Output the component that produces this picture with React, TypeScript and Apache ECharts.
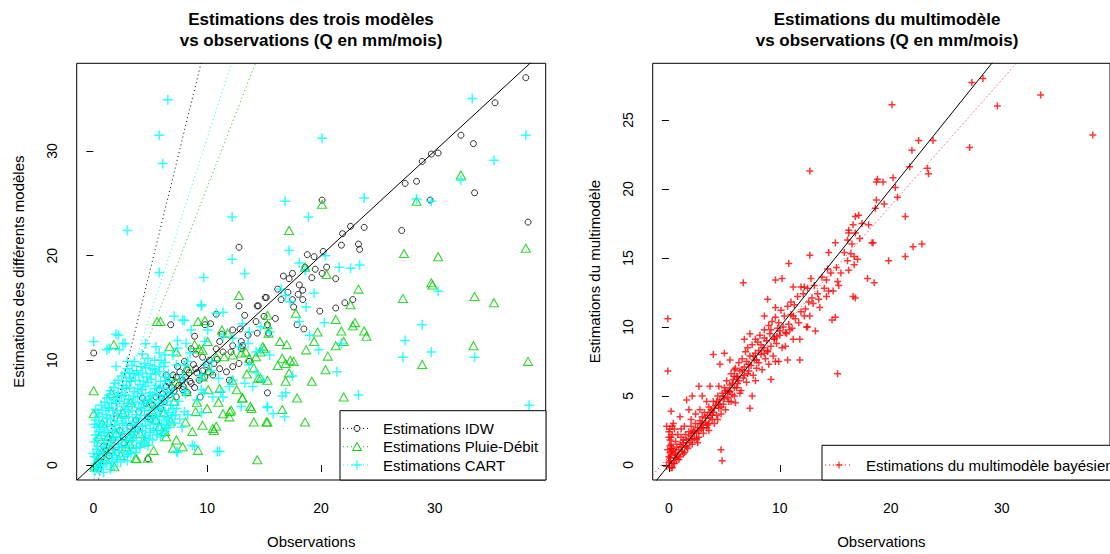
import { useEffect, useRef } from 'react'
import * as echarts from 'echarts'

// axis ticks
const xTicks = [0, 10, 20, 30]
const yTicksModels = [0, 10, 20, 30]
const yTicksMulti = [0, 5, 10, 15, 20, 25]

// axis extents (R adds 4% on each side)
const xRange = [-1.46, 39.75]
const yRangeModels = [-1.43, 38.37]
const yRangeMulti = [-1.09, 29.1]

// regression lines: [intercept, slope]
const idwFit = [-3.45, 4.42]
const pluieDebitFit = [-1.5, 2.8]
const cartFit = [-2.5, 3.37]
const multiFit = [0.6, 0.91]
const identity = [0, 1]

// Estimations IDW (observation, estimation)
const idwPoints = [
  [38.0, 37.0], [35.3, 34.6], [32.3, 31.5], [33.4, 30.7], [30.3, 29.8], [29.7, 29.7], [28.9, 29.0], [33.5, 26.0],
  [27.4, 26.9], [28.4, 27.1], [29.6, 25.3], [38.2, 23.2], [27.1, 22.4], [20.1, 25.3], [23.8, 22.7], [22.6, 22.8],
  [21.9, 22.1], [21.8, 21.0], [23.3, 21.1], [23.4, 20.6], [12.8, 20.8], [18.8, 20.1], [19.4, 19.9], [20.2, 20.4],
  [20.5, 18.9], [18.6, 18.9], [19.5, 18.7], [21.3, 17.8], [17.2, 17.8], [16.7, 18.05], [17.5, 18.3], [17.1, 16.5],
  [18.0, 16.3], [18.4, 16.7], [16.5, 15.8], [17.5, 15.8], [17.6, 15.1], [18.1, 17.2], [18.4, 15.8], [21.3, 15.0],
  [22.1, 15.5], [22.8, 15.8], [19.9, 14.7], [17.9, 13.4], [18.5, 13.0], [15.1, 16.0], [14.5, 15.2], [15.3, 6.9],
  [0.03, 10.7], [6.8, 13.4], [9.8, 13.4], [10.3, 13.5], [10.8, 14.4], [8.9, 12.3], [15.0, 14.2], [14.4, 12.6],
  [4.8, 0.6], [12.8, 15.2], [14.4, 15.2], [15.2, 16.0], [12.25, 12.9], [12.9, 13.0], [11.1, 11.8], [13.0, 11.8],
  [13.6, 12.4], [14.3, 13.7], [15.3, 13.4], [15.4, 12.6], [8.6, 11.1], [9.0, 10.6], [9.6, 10.3], [10.8, 11.1],
  [11.4, 10.8], [12.1, 10.8], [12.25, 11.4], [13.0, 11.1], [13.1, 11.4], [7.4, 9.4], [7.3, 8.4], [7.85, 8.1],
  [8.4, 8.8], [9.0, 9.2], [8.6, 7.8], [9.3, 8.1], [9.8, 8.4], [10.5, 8.6], [11.1, 9.2], [11.7, 8.9],
  [11.95, 8.1], [12.25, 9.4], [12.8, 9.7], [13.7, 9.9], [5.8, 7.2], [6.4, 7.5], [6.7, 6.7], [7.3, 6.5],
  [7.85, 7.2], [5.5, 6.5], [6.2, 6.05], [4.6, 5.9], [5.2, 5.7], [4.3, 6.4], [4.0, 5.1], [4.8, 4.6],
  [3.75, 4.3], [3.2, 3.7], [2.3, 3.3], [2.6, 2.7], [1.7, 2.4], [2.0, 1.75], [1.1, 1.4], [0.7, 0.8],
  [6.9, 8.1], [7.5, 7.6], [8.1, 8.4], [8.8, 9.6], [9.4, 6.5], [6.4, 8.6], [7.1, 7.1], [8.3, 6.9],
  [9.9, 9.6], [10.2, 10.0], [10.6, 9.7], [5.9, 5.4], [3.4, 2.9], [2.7, 2.1], [1.4, 0.9], [0.4, 0.3],
  [0.9, 1.8], [3.9, 3.4], [5.0, 4.4], [6.1, 6.8], [8.0, 9.9], [11.3, 12.5], [13.3, 14.3], [16.2, 16.8],
  [16.0, 14.0], [19.2, 17.9], [20.1, 18.3], [7.0, 8.6], [7.6, 8.9], [8.2, 9.1], [8.5, 8.0], [9.1, 8.8],
  [9.6, 9.0], [10.1, 8.9], [10.9, 10.1], [6.6, 7.9], [7.9, 7.5], [8.9, 7.4], [6.0, 6.4], [6.9, 7.4]
]

// Estimations Pluie-Débit
const pluieDebitPoints = [
  [32.3, 27.7], [28.4, 25.2], [20.1, 24.9], [17.2, 22.4], [38.0, 20.7], [27.3, 20.2], [30.3, 19.9], [18.6, 18.9],
  [20.5, 18.2], [29.7, 17.4], [12.8, 16.2], [23.3, 16.8], [27.2, 15.9], [29.8, 17.2], [33.5, 16.1], [35.2, 15.5],
  [22.6, 15.3], [21.3, 13.9], [22.8, 13.3], [23.8, 12.8], [24.0, 12.3], [21.8, 12.8], [22.0, 11.8], [21.3, 11.4],
  [19.4, 11.8], [19.7, 12.7], [18.7, 11.0], [20.4, 9.1], [22.0, 6.5], [33.4, 11.4], [28.9, 9.6], [38.2, 9.9],
  [17.9, 6.4], [18.6, 4.1], [16.6, 5.3], [15.3, 4.1], [14.1, 4.1], [14.4, 0.5], [16.9, 8.0], [17.2, 8.8],
  [14.7, 8.3], [13.1, 6.4], [13.8, 5.6], [12.0, 5.1], [10.8, 3.7], [10.6, 3.3], [9.6, 3.8], [9.2, 1.4],
  [5.9, 13.7], [5.6, 13.7], [9.2, 13.7], [9.8, 13.8], [1.8, 11.5], [0.03, 7.1], [0.03, 4.9], [17.8, 14.5],
  [15.3, 14.3], [3.8, 0.6], [15.3, 13.4], [15.4, 12.6], [14.9, 11.3], [15.0, 11.1], [14.5, 8.3], [15.3, 8.1],
  [1.6, 6.85], [11.3, 12.9], [11.8, 12.6], [6.7, 11.3], [7.3, 10.8], [8.9, 11.5], [9.3, 11.1], [9.6, 10.96],
  [10.05, 11.8], [10.8, 10.35], [11.5, 10.35], [12.25, 10.5], [13.0, 10.7], [13.4, 10.8], [13.7, 10.2], [14.3, 10.35],
  [14.7, 10.8], [13.1, 6.4], [13.9, 5.4], [12.1, 5.25], [11.4, 4.9], [11.95, 4.6], [10.5, 3.5], [8.7, 3.2],
  [7.3, 2.4], [7.85, 1.75], [7.0, 1.6], [6.4, 2.7], [5.8, 3.7], [5.5, 4.3], [5.2, 5.1], [15.2, 4.1],
  [3.7, 0.64], [4.8, 0.64], [2.9, 1.75], [3.2, 2.7], [2.0, 3.0], [1.3, 2.7], [0.8, 4.0], [0.5, 2.7],
  [1.1, 0.5], [1.85, -0.16], [0.1, -0.1], [16.4, 11.8], [17.0, 11.5], [16.6, 10.2], [16.9, 9.7], [17.3, 10.0],
  [16.2, 9.5], [17.6, 9.9], [5.0, 6.0], [6.2, 5.0], [7.1, 6.1], [8.2, 7.0], [9.1, 6.0], [10.1, 7.2],
  [4.1, 3.0], [3.2, 2.0], [6.3, 3.2], [8.1, 4.1], [9.0, 5.1], [11.1, 7.3], [12.2, 8.1], [10.2, 9.0],
  [8.3, 9.2], [7.2, 8.0], [4.5, 2.2], [5.3, 1.4], [6.8, 4.2], [2.4, 0.9], [1.5, 1.5], [0.6, 1.0],
  [0.3, 0.2], [2.6, 5.0], [3.3, 6.0], [12.6, 7.2], [13.5, 8.7], [10.0, 5.4], [11.0, 6.0], [9.6, 8.4],
  [20.6, 10.4], [19.2, 8.0], [23.0, 13.6], [14.1, 9.3]
]

// Estimations CART
const cartPoints = [
  [6.55, 34.9], [5.8, 31.5], [6.1, 28.8], [3.0, 22.4], [20.1, 31.2], [33.3, 35.0], [38.0, 31.5], [35.2, 29.1],
  [32.3, 27.2], [28.4, 25.4], [29.7, 25.2], [23.8, 25.5], [16.85, 25.2], [18.9, 23.7], [12.2, 23.7], [12.2, 19.65],
  [17.2, 20.5], [18.1, 19.3], [20.4, 20.0], [21.6, 18.9], [22.6, 18.8], [23.4, 19.1], [13.3, 18.3], [9.7, 17.9],
  [5.8, 18.4], [18.6, 18.6], [28.9, 13.4], [27.4, 11.9], [27.2, 10.3], [29.7, 10.8], [33.5, 10.3], [30.3, 16.6],
  [21.4, 8.9], [23.3, 6.7], [38.3, 5.7], [19.4, 16.4], [18.7, 15.1], [19.8, 11.0], [17.5, 8.5], [16.9, 6.9],
  [16.6, 6.6], [16.8, 4.6], [15.3, 5.5], [10.9, 1.3], [7.4, 1.2], [8.9, 1.8], [9.5, 15.2], [8.0, 13.8],
  [7.1, 14.2], [11.4, 14.6], [0.03, 11.8], [2.2, 12.4], [1.2, 11.0], [2.8, 11.6], [2.0, 9.4], [2.0, 12.5],
  [2.6, 11.6], [1.4, 11.15], [2.3, 11.0], [3.0, 9.9], [3.2, 8.8], [4.6, 11.6], [5.5, 11.3], [5.8, 10.7],
  [5.95, 10.0], [4.8, 10.2], [5.2, 9.2], [9.5, 15.3], [10.8, 14.5], [7.85, 13.85], [8.6, 12.9], [10.05, 12.9],
  [9.8, 11.8], [11.4, 12.3], [13.1, 13.5], [13.7, 12.7], [14.7, 13.2], [15.5, 12.7], [7.4, 11.9], [7.4, 11.15],
  [7.0, 10.5], [8.15, 11.6], [7.3, 9.55], [12.25, 12.1], [12.8, 11.3], [13.6, 11.6], [14.3, 10.8], [14.7, 11.0],
  [15.5, 10.5], [13.7, 9.55], [14.3, 8.8], [14.9, 8.1], [14.0, 7.5], [13.3, 7.8], [12.25, 8.1], [11.95, 7.5],
  [11.4, 6.5], [10.5, 6.5], [13.0, 5.6], [15.3, 5.6], [15.8, 4.9], [8.7, 1.9], [7.3, 1.3], [11.1, 1.3],
  [16.5, 16.8], [16.9, 16.2], [17.3, 15.6], [18.1, 13.7], [19.0, 12.4], [20.3, 13.6], [21.8, 11.6],
  [0.1, -0.6], [0.5, -0.4], [0.9, -0.7],
  [0.2, 0.1], [0.7, 0.0], [1.2, 0.2], [1.8, -0.1], [2.4, 0.3],
  [0.1, 0.8], [0.6, 0.6], [1.4, 0.9], [2.0, 0.7], [2.7, 0.8], [3.3, 1.1],
  [0.3, 1.5], [0.8, 1.3], [1.2, 1.6], [1.9, 1.4], [2.5, 1.7], [3.1, 1.3], [3.8, 1.6], [4.5, 2.0],
  [0.1, 2.2], [0.9, 2.1], [1.5, 2.4], [2.2, 2.0], [2.9, 2.3], [3.5, 2.6], [4.2, 2.1], [4.9, 2.5], [5.6, 2.9],
  [0.2, 2.9], [0.7, 2.8], [1.3, 3.1], [2.0, 2.7], [2.6, 3.0], [3.3, 2.9], [4.0, 3.2], [4.6, 2.8], [5.3, 3.3], [6.0, 3.0], [6.6, 3.6],
  [0.3, 3.6], [0.9, 3.4], [1.6, 3.7], [2.3, 3.5], [2.9, 3.8], [3.6, 3.4], [4.3, 3.7], [5.0, 3.5], [5.7, 3.9], [6.4, 3.5], [7.1, 4.0], [7.8, 3.6],
  [0.2, 4.3], [0.8, 4.1], [1.5, 4.4], [2.1, 4.2], [2.8, 4.5], [3.5, 4.1], [4.1, 4.4], [4.8, 4.2], [5.5, 4.6], [6.2, 4.3], [6.9, 4.7], [7.6, 4.4], [8.3, 4.8],
  [0.4, 5.0], [1.1, 4.8], [1.7, 5.2], [2.4, 4.9], [3.1, 5.1], [3.8, 4.8], [4.5, 5.2], [5.2, 4.9], [5.9, 5.3], [6.6, 5.0], [7.3, 5.4], [8.0, 5.1], [9.5, 5.0],
  [0.7, 5.7], [1.3, 5.5], [2.0, 5.9], [2.7, 5.6], [3.4, 5.8], [4.0, 5.5], [4.7, 5.9], [5.4, 5.6], [6.1, 6.0], [6.8, 5.7], [7.5, 6.1], [9.1, 6.2],
  [1.2, 6.4], [1.8, 6.2], [2.5, 6.6], [3.1, 6.3], [3.9, 6.5], [4.5, 6.2], [5.2, 6.6], [5.9, 6.3], [6.6, 6.7], [8.1, 6.8], [9.7, 6.9],
  [1.5, 7.1], [2.2, 6.9], [2.9, 7.3], [3.6, 7.0], [4.3, 7.2], [5.0, 6.9], [5.8, 7.3], [6.5, 7.0], [8.0, 7.1], [9.5, 7.2], [11.2, 7.0],
  [1.9, 7.8], [2.6, 7.6], [3.3, 8.0], [4.1, 7.7], [4.8, 7.9], [5.5, 7.6], [6.3, 8.0], [7.9, 8.1], [9.4, 8.2], [11.0, 8.3],
  [2.5, 8.5], [3.2, 8.3], [4.0, 8.6], [4.7, 8.4], [5.5, 8.7], [6.3, 8.4], [7.8, 8.5], [9.5, 8.6], [10.4, 9.0],
  [3.0, 9.2], [3.8, 9.0], [4.6, 9.3], [5.4, 9.1], [6.2, 9.4], [8.0, 9.5], [9.8, 9.6],
  [3.6, 9.9], [4.5, 9.7], [5.4, 10.0], [6.3, 9.8], [8.3, 9.9], [10.4, 9.9],
  [4.3, 10.6], [6.3, 10.5], [8.5, 10.7],
  [0.3, -0.3], [0.7, -0.2], [1.5, -0.4],
  [0.4, 0.35], [0.9, 0.4], [1.6, 0.3], [2.1, 0.5], [3.0, 0.4],
  [0.0, 1.1], [0.5, 1.0], [1.0, 1.1], [1.7, 0.9], [2.3, 1.2], [3.0, 1.0], [3.7, 1.2],
  [0.4, 1.8], [1.0, 1.7], [1.6, 1.9], [2.2, 1.7], [2.8, 1.8], [3.4, 1.9], [4.1, 1.7], [4.8, 1.9],
  [0.4, 2.5], [1.2, 2.4], [1.8, 2.6], [2.5, 2.4], [3.2, 2.5], [3.8, 2.3], [4.5, 2.6], [5.2, 2.4], [5.9, 2.7],
  [0.5, 3.2], [1.0, 3.1], [1.7, 3.3], [2.3, 3.1], [3.0, 3.2], [3.6, 3.1], [4.3, 3.3], [5.0, 3.1], [5.6, 3.3], [6.3, 3.2],
  [0.1, 3.9], [0.6, 3.8], [1.2, 3.9], [1.9, 3.8], [2.6, 4.0], [3.3, 3.8], [3.9, 3.9], [4.6, 3.8], [5.3, 4.0], [6.0, 3.8], [6.7, 4.1],
  [0.5, 4.6], [1.2, 4.5], [1.8, 4.7], [2.5, 4.5], [3.1, 4.6], [3.8, 4.5], [4.5, 4.7], [5.1, 4.5], [5.8, 4.7], [6.5, 4.5], [7.2, 4.8],
  [0.2, 5.3], [0.8, 5.2], [1.4, 5.4], [2.1, 5.2], [2.8, 5.3], [3.4, 5.2], [4.2, 5.4], [4.9, 5.2], [5.6, 5.4], [6.3, 5.2], [7.0, 5.4],
  [1.0, 6.0], [1.6, 5.9], [2.3, 6.1], [3.0, 5.9], [3.7, 6.0], [4.4, 5.9], [5.1, 6.1], [5.8, 5.9], [6.5, 6.1],
  [1.4, 6.7], [2.1, 6.6], [2.8, 6.7], [3.5, 6.6], [4.2, 6.8], [4.9, 6.6], [5.6, 6.7], [6.2, 6.6], [7.0, 6.8],
  [1.8, 7.4], [2.5, 7.3], [3.2, 7.4], [3.9, 7.3], [4.6, 7.5], [5.4, 7.3], [6.1, 7.4], [6.9, 7.3],
  [2.2, 8.1], [2.9, 8.0], [3.7, 8.1], [4.4, 8.0], [5.1, 8.2], [5.9, 8.0], [6.7, 8.1],
  [2.8, 8.8], [3.5, 8.7], [4.3, 8.8], [5.0, 8.7], [5.8, 8.9], [6.6, 8.7],
  [3.4, 9.5], [4.2, 9.4], [5.0, 9.5], [5.8, 9.4]
]

// Estimations du multimodèle bayésien
const multimodelPoints = [
  [27.3, 27.7], [28.3, 28.0], [33.5, 26.8], [29.6, 26.0], [38.2, 23.9], [20.1, 26.1], [27.1, 23.0], [22.5, 23.5],
  [23.8, 23.5], [21.9, 22.8], [21.7, 21.6], [23.3, 21.5], [23.4, 21.1], [12.7, 21.3], [18.8, 20.7], [18.7, 20.5],
  [19.3, 20.5], [20.2, 20.8], [20.4, 20.1], [20.6, 19.4], [18.7, 19.2], [18.6, 18.6], [19.4, 18.9], [21.3, 18.0],
  [16.8, 18.0], [17.1, 18.1], [16.6, 17.4], [17.4, 17.5], [18.0, 17.4], [16.2, 17.0], [16.2, 16.8], [16.8, 16.8],
  [15.0, 16.1], [16.1, 16.3], [17.2, 16.4], [18.3, 16.1], [21.3, 15.1], [22.0, 15.8], [22.8, 16.0], [19.8, 14.8],
  [14.4, 15.4], [12.7, 15.2], [16.4, 15.3], [16.7, 15.1], [17.0, 14.9], [16.7, 14.5], [16.2, 14.1], [10.8, 14.6],
  [17.9, 13.5], [18.5, 13.2], [14.3, 14.2], [10.2, 13.5], [11.2, 12.9], [12.2, 12.9], [12.8, 13.5], [14.2, 13.4],
  [15.2, 13.3], [15.3, 13.0], [9.6, 13.4], [11.9, 12.9], [-0.1, 10.6], [-0.1, 6.8], [15.2, 6.6], [6.7, 13.2],
  [4.7, 1.1], [4.8, 0.3], [0.2, 3.9], [18.4, 16.1], [16.6, 12.2], [16.8, 12.1], [14.7, 10.5], [15.0, 10.7],
  [14.4, 12.6], [13.5, 12.0], [13.2, 9.7], [13.0, 11.7], [12.4, 10.0], [11.8, 9.1], [11.8, 7.6], [10.7, 7.6],
  [9.9, 7.5], [9.6, 7.5], [9.2, 6.2], [10.5, 8.6], [11.2, 9.1], [8.9, 12.0], [9.6, 11.4], [8.6, 10.8],
  [11.0, 11.8], [11.2, 10.8], [12.2, 10.8], [12.7, 10.8], [12.5, 10.0], [7.3, 9.5], [7.8, 9.1], [8.6, 9.2],
  [6.8, 9.1], [8.9, 8.3], [8.1, 8.3], [9.5, 9.1], [9.7, 9.3], [9.2, 9.8], [10.0, 9.7], [10.6, 9.5],
  [10.9, 9.8], [4.0, 8.0], [5.0, 8.1], [4.6, 7.3], [5.5, 7.6], [5.9, 6.9], [6.2, 6.4], [7.1, 6.6],
  [7.5, 5.0], [7.3, 4.1], [5.9, 5.0], [5.4, 5.4], [4.5, 5.7], [3.7, 5.7], [2.7, 5.7], [3.0, 5.0],
  [2.1, 5.0], [1.6, 4.7], [1.8, 4.0], [2.4, 3.7], [1.0, 3.5], [0.4, 3.0], [0.1, 1.8], [1.3, 1.8],
  [2.1, 2.3], [0.1, 0.9], [0.7, 0.4], [-0.2, -0.1],
  [0.0, 0.2], [0.1, 0.5], [-0.1, 1.1], [0.2, 1.5], [0.0, 2.0], [0.1, 2.6], [-0.2, 2.8], [0.3, 2.2],
  [0.4, 1.2], [0.2, 0.7], [0.3, -0.2], [0.5, 0.1],
  [0.1, 0.3], [0.2, -0.2], [0.0, 0.6], [0.3, 1.0], [0.1, 1.4], [0.4, 0.1], [0.5, 0.8], [0.2, 2.0],
  [0.0, 2.4], [0.3, 2.8], [0.5, 2.6], [0.2, 1.2], [0.6, 0.5], [0.7, 1.3], [0.8, 0.7], [0.9, 1.1],
  [1.0, 0.6], [1.0, 1.5], [1.1, 2.0], [1.2, 1.0], [1.3, 1.6], [1.4, 0.9], [1.5, 1.4], [1.5, 2.2],
  [1.6, 1.8], [1.7, 1.2], [1.8, 2.4], [1.9, 1.6], [2.0, 2.1], [2.0, 2.8], [2.1, 1.5], [2.2, 2.5],
  [2.3, 1.9], [2.4, 3.0], [2.5, 2.3], [2.6, 2.7], [2.7, 2.0], [2.8, 3.2], [2.9, 2.6], [3.0, 3.5],
  [3.0, 2.9], [3.1, 2.3], [3.2, 3.8], [3.3, 3.1], [3.4, 2.7], [3.5, 3.6], [3.6, 4.2], [3.6, 3.0],
  [3.7, 3.4], [3.8, 4.0], [3.9, 3.3], [4.0, 4.6], [4.0, 3.8], [4.1, 3.0], [4.2, 4.3], [4.3, 3.6],
  [4.4, 5.0], [4.5, 4.1], [4.6, 4.7], [4.7, 3.7], [4.8, 5.2], [4.9, 4.4], [5.0, 5.6], [5.0, 4.8],
  [5.1, 4.0], [5.2, 6.1], [5.3, 5.3], [5.4, 4.6], [5.5, 5.8], [5.6, 6.6], [5.7, 5.1], [5.8, 6.2],
  [5.9, 5.6], [6.0, 7.0], [6.0, 4.5], [6.1, 6.4], [6.2, 5.9], [6.3, 7.4], [6.4, 6.8], [6.5, 5.4],
  [6.6, 7.7], [6.7, 6.3], [6.8, 7.1], [6.9, 8.2], [7.0, 6.0], [7.0, 7.5], [7.1, 8.5], [7.2, 6.8],
  [7.3, 7.9], [7.4, 7.2], [7.5, 8.7], [7.6, 6.5], [7.7, 7.6], [7.8, 8.1], [7.9, 7.0], [8.0, 8.9],
  [8.1, 7.4], [8.2, 9.4], [8.3, 8.0], [8.4, 6.9], [8.5, 8.5], [8.6, 9.8], [8.7, 7.7], [8.8, 9.0],
  [8.9, 8.2], [9.0, 10.1], [9.0, 7.3], [9.1, 9.5], [9.2, 8.6], [9.3, 10.4], [9.4, 7.9], [9.5, 9.2],
  [9.6, 10.7], [9.7, 8.8], [9.8, 9.9], [9.9, 10.3], [10.0, 9.4], [10.1, 11.2], [10.2, 8.5], [10.3, 10.0],
  [10.4, 10.8], [10.5, 9.6], [10.7, 11.5], [10.8, 10.2], [11.0, 10.9], [11.1, 9.9], [11.3, 11.6], [11.4, 10.6],
  [11.6, 12.2], [11.7, 10.3], [11.9, 11.1], [12.1, 12.4], [12.3, 11.3], [12.5, 12.8], [12.6, 11.8], [12.9, 12.1],
  [13.1, 13.0], [13.4, 12.4], [13.6, 11.4], [13.8, 13.6], [14.0, 12.8], [14.2, 12.2], [14.6, 13.9], [14.8, 12.6],
  [15.1, 14.3], [15.5, 13.9], [15.8, 15.4], [16.1, 14.8], [16.5, 16.0],
  [0.6, 0.9], [0.9, 0.4], [1.1, 1.3], [1.3, 0.8], [1.6, 1.3], [1.8, 1.9], [2.1, 1.8], [2.3, 2.4],
  [2.5, 1.9], [2.7, 2.5], [2.9, 3.0], [3.1, 2.7], [3.3, 3.4], [3.5, 2.9], [3.7, 3.8], [3.9, 3.6],
  [4.1, 4.1], [4.3, 4.6], [4.5, 4.4], [4.7, 4.2], [4.9, 5.0], [5.1, 5.4], [5.3, 4.9], [5.5, 5.3],
  [5.7, 5.9], [5.9, 6.4], [6.1, 5.6], [6.3, 6.1], [6.6, 6.9], [6.8, 6.5], [7.2, 7.3], [7.6, 7.9],
  [7.9, 7.6], [8.3, 8.7], [8.6, 8.1], [2.0, 3.3], [2.8, 4.0], [3.4, 4.6], [1.4, 2.8], [1.1, 2.6],
  [0.8, 2.2], [0.6, 1.7], [2.6, 1.6], [3.6, 2.5], [4.4, 3.3], [5.6, 4.6], [6.4, 5.2], [7.8, 6.1]
]

const FONT = '"Liberation Sans", Arial, sans-serif'
const GREEN = '#00CD00'
const CYAN = '#00FFFF'
const RED = '#FF0000'
const PLUS = 'path://M0,5L10,5M5,0L5,10'

function fitLine(coef: number[]) {
  return [
    [xRange[0], coef[0] + coef[1] * xRange[0]],
    [xRange[1], coef[0] + coef[1] * xRange[1]]
  ]
}

function lineSeries(coef: number[], color: string, dotted: boolean, idx: number) {
  return {
    type: 'line',
    xAxisIndex: idx,
    yAxisIndex: idx,
    data: fitLine(coef),
    symbol: 'none',
    silent: true,
    clip: true,
    z: 5,
    lineStyle: { color, width: 1, type: dotted ? [1, 3] : 'solid' }
  }
}

function xAxisFor(idx: number) {
  return {
    gridIndex: idx,
    type: 'value',
    min: xRange[0],
    max: xRange[1],
    axisLine: { show: false },
    splitLine: { show: false },
    axisTick: { show: true, length: 7, customValues: xTicks, lineStyle: { color: '#000' } },
    axisLabel: { customValues: xTicks, fontSize: 14, color: '#000', fontFamily: FONT, margin: 21 },
    name: 'Observations',
    nameLocation: 'middle',
    nameGap: 54,
    nameTextStyle: { fontSize: 15, color: '#000', fontFamily: FONT }
  }
}

function yAxisFor(idx: number, range: number[], ticks: number[], name: string) {
  return {
    gridIndex: idx,
    type: 'value',
    min: range[0],
    max: range[1],
    axisLine: { show: false },
    splitLine: { show: false },
    axisTick: { show: true, length: 7, customValues: ticks, lineStyle: { color: '#000' } },
    axisLabel: { customValues: ticks, rotate: 90, fontSize: 14, color: '#000', fontFamily: FONT, margin: 18 },
    name,
    nameLocation: 'middle',
    nameGap: 51,
    nameTextStyle: { fontSize: 15, color: '#000', fontFamily: FONT }
  }
}

function label(text: string, x: number, y: number, size: number, bold = false, align = 'left') {
  return {
    type: 'text',
    x,
    y,
    z: 100,
    style: {
      text,
      fill: '#000',
      font: (bold ? 'bold ' : '') + size + 'px ' + FONT,
      align,
      textAlign: align,
      verticalAlign: 'middle',
      textVerticalAlign: 'middle'
    }
  }
}

function legendLine(x: number, y: number, color: string) {
  return {
    type: 'line',
    z: 100,
    shape: { x1: x, y1: y, x2: x + 28, y2: y },
    style: { stroke: color, lineWidth: 1, lineDash: [1, 3] }
  }
}

function plusMark(cx: number, cy: number, half: number, color: string) {
  return [
    { type: 'line', z: 101, shape: { x1: cx - half, y1: cy, x2: cx + half, y2: cy }, style: { stroke: color, lineWidth: 1 } },
    { type: 'line', z: 101, shape: { x1: cx, y1: cy - half, x2: cx, y2: cy + half }, style: { stroke: color, lineWidth: 1 } }
  ]
}

export default function App() {
  const ref = useRef<HTMLDivElement>(null)

  useEffect(() => {
    if (!ref.current) return
    const chart = echarts.init(ref.current, null, { renderer: 'svg' })

    const option: any = {
      animation: false,
      backgroundColor: '#fff',
      textStyle: { fontFamily: FONT },
      grid: [
        { left: 76.7, top: 63.3, width: 469, height: 416.7, show: true, borderColor: '#000', borderWidth: 1 },
        { left: 652.7, top: 63.3, width: 469, height: 416.7, show: true, borderColor: '#000', borderWidth: 1 }
      ],
      xAxis: [xAxisFor(0), xAxisFor(1)],
      yAxis: [
        yAxisFor(0, yRangeModels, yTicksModels, 'Estimations des différents modèles'),
        yAxisFor(1, yRangeMulti, yTicksMulti, 'Estimations du multimodèle')
      ],
      series: [
        {
          type: 'scatter', xAxisIndex: 0, yAxisIndex: 0, data: idwPoints,
          symbol: 'circle', symbolSize: 6, silent: true,
          itemStyle: { color: 'transparent', borderColor: '#000', borderWidth: 1 }
        },
        {
          type: 'scatter', xAxisIndex: 0, yAxisIndex: 0, data: pluieDebitPoints,
          symbol: 'triangle', symbolSize: [9, 8], silent: true,
          itemStyle: { color: 'transparent', borderColor: GREEN, borderWidth: 1.1 }
        },
        {
          type: 'scatter', xAxisIndex: 0, yAxisIndex: 0, data: cartPoints,
          symbol: PLUS, symbolSize: 10, silent: true,
          itemStyle: { color: 'transparent', borderColor: CYAN, borderWidth: 1.5 }
        },
        lineSeries(identity, '#000', false, 0),
        lineSeries(idwFit, '#000', true, 0),
        lineSeries(pluieDebitFit, GREEN, true, 0),
        lineSeries(cartFit, CYAN, true, 0),
        {
          type: 'scatter', xAxisIndex: 1, yAxisIndex: 1, data: multimodelPoints,
          symbol: PLUS, symbolSize: 7, silent: true,
          itemStyle: { color: 'transparent', borderColor: RED, borderWidth: 1.5 }
        },
        lineSeries(identity, '#000', false, 1),
        lineSeries(multiFit, RED, true, 1)
      ],
      graphic: [
        label('Estimations des trois modèles', 311, 19, 17, true, 'center'),
        label('vs observations (Q en mm/mois)', 311, 40, 17, true, 'center'),
        label('Estimations du multimodèle', 887, 19, 17, true, 'center'),
        label('vs observations (Q en mm/mois)', 887, 40, 17, true, 'center'),
        // left legend
        { type: 'rect', z: 99, shape: { x: 340, y: 410.7, width: 206, height: 69.3 }, style: { fill: '#fff', stroke: '#000', lineWidth: 1 } },
        legendLine(343, 428.4, '#000'),
        { type: 'circle', z: 101, shape: { cx: 357, cy: 428.4, r: 3 }, style: { fill: '#fff', stroke: '#000', lineWidth: 1 } },
        label('Estimations IDW', 383, 428.4, 15),
        legendLine(343, 446.7, GREEN),
        { type: 'polygon', z: 101, shape: { points: [[352.5, 450.5], [361.5, 450.5], [357, 442.5]] }, style: { fill: '#fff', stroke: GREEN, lineWidth: 1 } },
        label('Estimations Pluie-Débit', 383, 446.7, 15),
        legendLine(343, 465, CYAN),
        ...plusMark(357, 465, 5, CYAN),
        label('Estimations CART', 383, 465, 15),
        // right legend (box and text run past the right edge, as in the original)
        { type: 'rect', z: 99, shape: { x: 822, y: 445.3, width: 400, height: 34.7 }, style: { fill: '#fff', stroke: '#000', lineWidth: 1 } },
        legendLine(825, 465, RED),
        ...plusMark(839, 465, 3.5, RED),
        label('Estimations du multimodèle bayésien', 866, 465, 15)
      ]
    }

    chart.setOption(option)
    return () => chart.dispose()
  }, [])

  return (
    <div style={{ position: 'fixed', left: 0, top: 0, width: 1110, height: 554, overflow: 'hidden', background: '#fff' }}>
      <div ref={ref} style={{ width: 1110, height: 554 }} />
    </div>
  )
}
